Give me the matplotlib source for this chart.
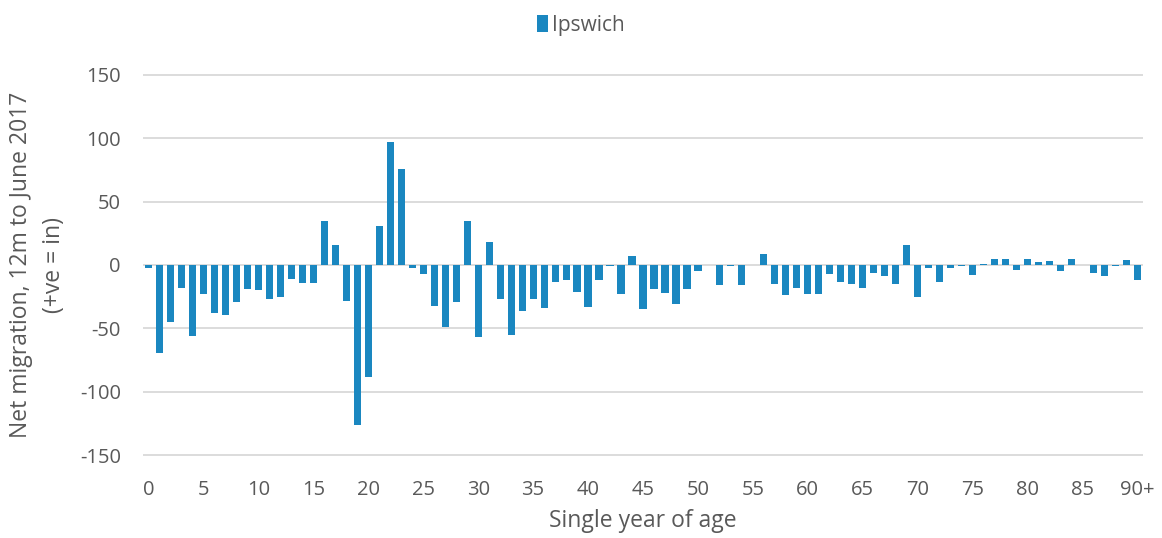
import matplotlib
matplotlib.use("Agg")
import matplotlib.pyplot as plt
import numpy as np

ages = list(range(91))
age_labels = [str(a) if a < 90 else "90+" for a in ages]
net_migration = [
    -2, -69, -45, -18, -56, -23, -38, -39, -29, -19,
    -20, -27, -25, -11, -14, -14, 35, 16, -28, -126,
    -88, 31, 97, 76, -2, -7, -32, -49, -29, 35,
    -57, 18, -27, -55, -36, -27, -34, -13, -12, -21,
    -33, -12, -1, -23, 7, -35, -19, -22, -31, -19,
    -5, 0, -16, -1, -16, 0, 9, -15, -24, -18,
    -23, -23, -7, -13, -15, -18, -6, -9, -15, 16,
    -25, -2, -13, -2, -1, -8, 1, 5, 5, -4,
    5, 2, 3, -5, 5, 0, -6, -9, -1, 4,
    -12,
]
series_name = "Ipswich"
yticks = [-150, -100, -50, 0, 50, 100, 150]
xtick_pos = list(range(0, 91, 5))

plt.rcParams['font.family'] = ['Open Sans', 'DejaVu Sans']
text_color = "#595959"

fig = plt.figure(figsize=(11.62, 5.38), dpi=100)
ax = fig.add_axes([143/1162, 1 - 458/538, 1000/1162, 386/538])

ax.bar(ages, net_migration, width=0.65, color="#1a87c0", label=series_name, zorder=3)

ax.set_xlim(-0.5, 90.5)
ax.set_ylim(-152, 152)
ax.set_yticks(yticks)
ax.set_yticklabels([str(t) for t in yticks], fontsize=14.5, color=text_color)
ax.set_xticks(xtick_pos)
ax.set_xticklabels([age_labels[i] for i in xtick_pos], fontsize=14.5, color=text_color)
ax.tick_params(axis='x', length=0, pad=16)
ax.tick_params(axis='y', length=0, pad=16)
ax.grid(axis='y', color="#d9d9d9", linewidth=1.3, zorder=0)
for s in ax.spines.values():
    s.set_visible(False)

ax.set_xlabel("Single year of age", fontsize=16.5, color=text_color, labelpad=6)
ax.set_ylabel("Net migration, 12m to June 2017\n(+ve = in)", fontsize=16.5, color=text_color,
              labelpad=10, linespacing=1.5)

leg = fig.legend(loc='upper center', bbox_to_anchor=(0.5, 1.0), frameon=False,
                 fontsize=15, handlelength=0.5, handleheight=0.9, handletextpad=0.2,
                 borderaxespad=0.3)
for t in leg.get_texts():
    t.set_color(text_color)

fig.savefig("out.png", dpi=100)
